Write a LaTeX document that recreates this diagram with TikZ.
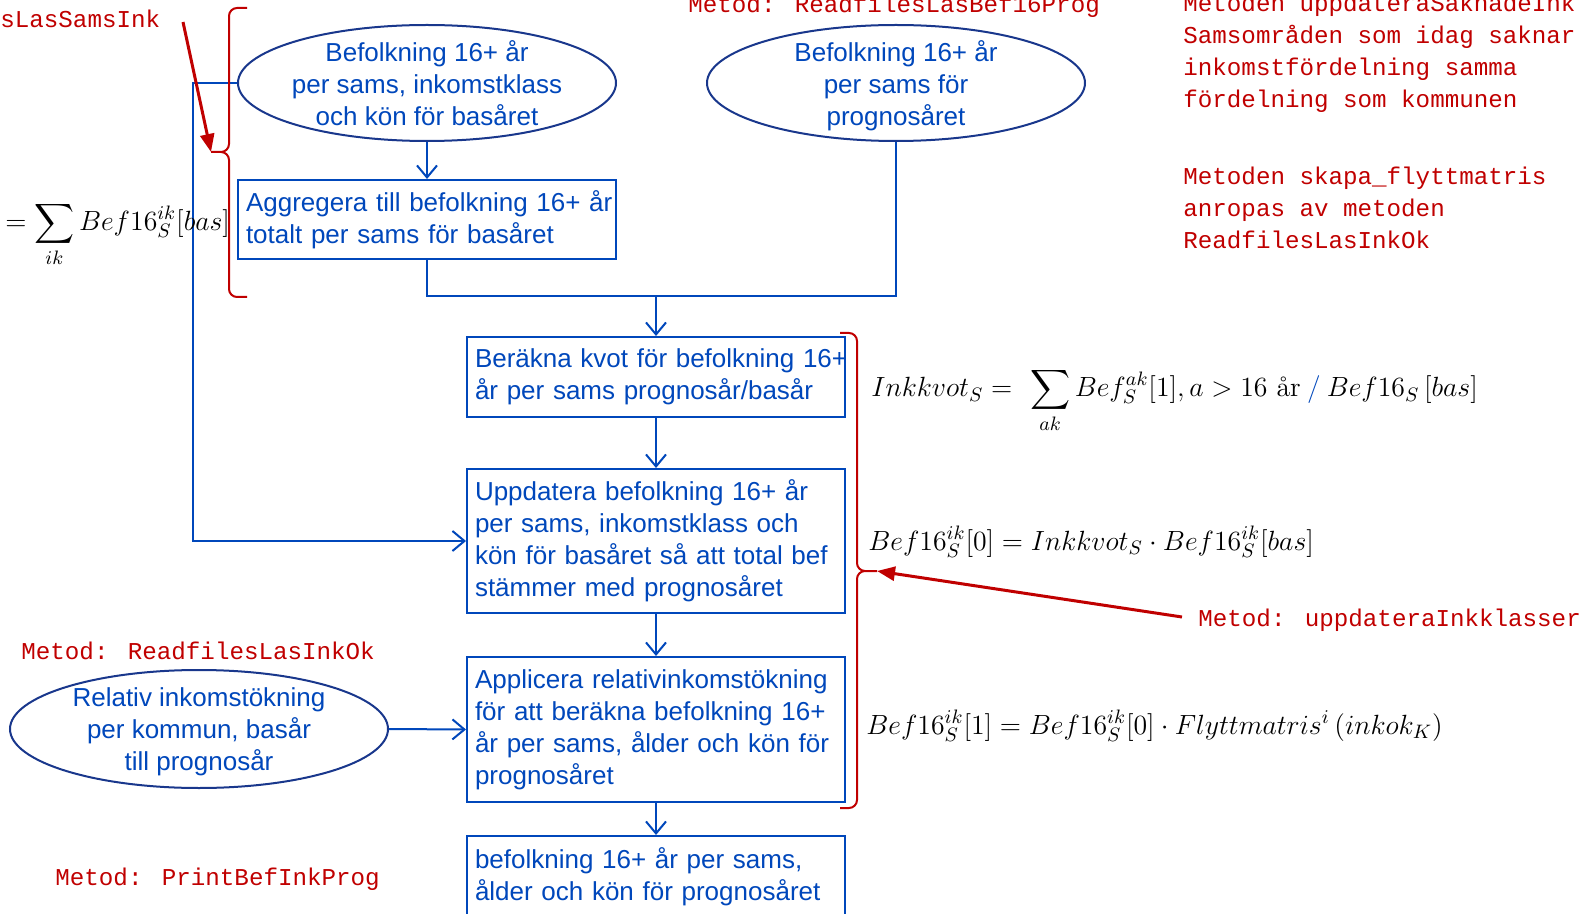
\RequirePackage{fix-cm}
\documentclass[tikz,border=0pt]{standalone}
\usepackage{amsmath,amssymb}
\usepackage{fontspec}
\newfontfamily\arialfont{Liberation Sans}
\newfontfamily\consfont{Liberation Mono}
\usetikzlibrary{arrows.meta,shapes.geometric}

\definecolor{flowblue}{RGB}{0,71,187}
\definecolor{ellblue}{RGB}{25,55,140}
\definecolor{metodred}{RGB}{192,0,0}

\tikzset{
  txt/.style={font=\arialfont\fontsize{13}{16}\selectfont, text=flowblue},
  stepbox/.style={txt, draw=flowblue, line width=1pt, rectangle, text width=181pt, inner xsep=4pt, inner ysep=0pt, align=left},
  datablob/.style={txt, text depth=0pt, draw=ellblue, line width=1pt, ellipse, minimum width=189pt, minimum height=58pt, inner xsep=-30pt, inner ysep=-6pt, align=center},
  flow/.style={draw=flowblue, line width=1pt},
  flowarr/.style={flow, -{Straight Barb[length=6pt,width=10pt]}},
  metod/.style={font=\consfont\fontsize{12.1}{16}\selectfont, text=metodred, inner sep=0pt, align=left, anchor=base west},
  brace/.style={draw=metodred, line width=1pt, rounded corners=4pt},
  pointer/.style={draw=metodred, line width=1.5pt, -{Triangle[length=9pt,width=7pt]}},
  formel/.style={font=\fontsize{13.9}{17}\selectfont, inner sep=0pt, anchor=base west},
}

\begin{document}
\begin{tikzpicture}[x=0.5pt,y=-0.5pt]
\useasboundingbox (0,0) rectangle (1595,914);

% indata
\node[datablob] (e1) at (427,83) {Befolkning 16+ år\\per sams, inkomstklass\\och kön för basåret};
\node[datablob] (e2) at (896,83) {Befolkning 16+ år\\per sams för\\prognosåret};
\node[datablob, minimum height=59pt] (e3) at (199,729) {Relativ inkomstökning\\per kommun, basår\\till prognosår};

% steg
\node[stepbox, minimum height=39.5pt] (agg) at (427,219.5) {\mbox{Aggregera till befolkning 16+ år}\\totalt per sams för basåret};
\node[stepbox, minimum height=40pt] (kvot) at (656,377) {\mbox{Beräkna kvot för befolkning 16+}\\år per sams prognosår/basår};
\node[stepbox, minimum height=72pt] (upd) at (656,541) {Uppdatera befolkning 16+ år\\per sams, inkomstklass och\\kön för basåret så att total bef\\stämmer med prognosåret};
\node[stepbox, minimum height=72.5pt] (appl) at (656,729.5) {Applicera relativinkomstökning\\för att beräkna befolkning 16+\\år per sams, ålder och kön för\\prognosåret};
\node[stepbox, minimum height=41pt] (res) at (656,877) {befolkning 16+ år per sams,\\ålder och kön för prognosåret};

% flöde
\coordinate (join) at (656,296);
\coordinate (feed) at (193,300);
\draw[flowarr] (e1.south) -- (agg.north);
\draw[flow] (agg.south) |- (join) -| (e2.south);
\draw[flowarr] (join) -- (kvot.north);
\draw[flowarr] (kvot.south) -- (upd.north);
\draw[flowarr] (e1.west) -| (feed) |- (upd.west);
\draw[flowarr] (upd.south) -- (appl.north);
\draw[flowarr] (e3.east) -- (appl.west);
\draw[flowarr] (appl.south) -- (res.north);

% formler
\node[formel] (fsum) at (5,231) {$=\displaystyle\sum_{ik} Bef16_S^{ik}[bas]$};
\node[formel] (fkvot) at (871,397) {$Inkkvot_S = \hspace{5pt}\displaystyle\sum_{ak} Bef_S^{ak}[1], a > 16\text{ år} \mathbin{\textcolor{flowblue}{/}} Bef16_S\,[bas]$};
\node[formel] (fnoll) at (868,550) {$Bef16_S^{ik}[0] = Inkkvot_S \cdot Bef16_S^{ik}[bas]$};
\node[formel] (fett) at (866,734) {$Bef16_S^{ik}[1] = Bef16_S^{ik}[0]\cdot Flyttmatris^i\,(inkok_K)$};

% metoder
\node[metod] (mSams) at (0,28) {sLasSamsInk};
\node[metod] (mBef16) at (688,13) {Metod: ReadfilesLasBef16Prog};
\node[metod] (mSakn) at (1183,108) {Metoden uppdateraSaknadeInk\\Samsområden som idag saknar\\inkomstfördelning samma\\fördelning som kommunen};
\node[metod] (mFlytt) at (1183,249) {Metoden skapa\_flyttmatris\\anropas av metoden\\ReadfilesLasInkOk};
\node[metod] (mInkOk) at (21,659) {Metod: ReadfilesLasInkOk};
\node[metod] (mPrint) at (55,885) {Metod: PrintBefInkProg};
\node[metod] (mUpd) at (1198,626) {Metod: uppdateraInkklasser};

% klamrar
\coordinate (lefttip) at (211,152);
\coordinate (righttip) at (877,571);
\coordinate (fromSams) at (183,22);
\coordinate (fromUpd) at (1182,617);
\draw[brace] (247,8) -- (229,8) -- (229,152) -- (lefttip) (lefttip) -- (229,152) -- (229,297) -- (247,297);
\draw[brace] (840,333) -- (857,333) -- (857,571) -- (righttip) (righttip) -- (857,571) -- (857,808) -- (840,808);
\draw[pointer] (fromSams) -- (lefttip);
\draw[pointer] (fromUpd) -- (righttip);
\end{tikzpicture}
\end{document}
